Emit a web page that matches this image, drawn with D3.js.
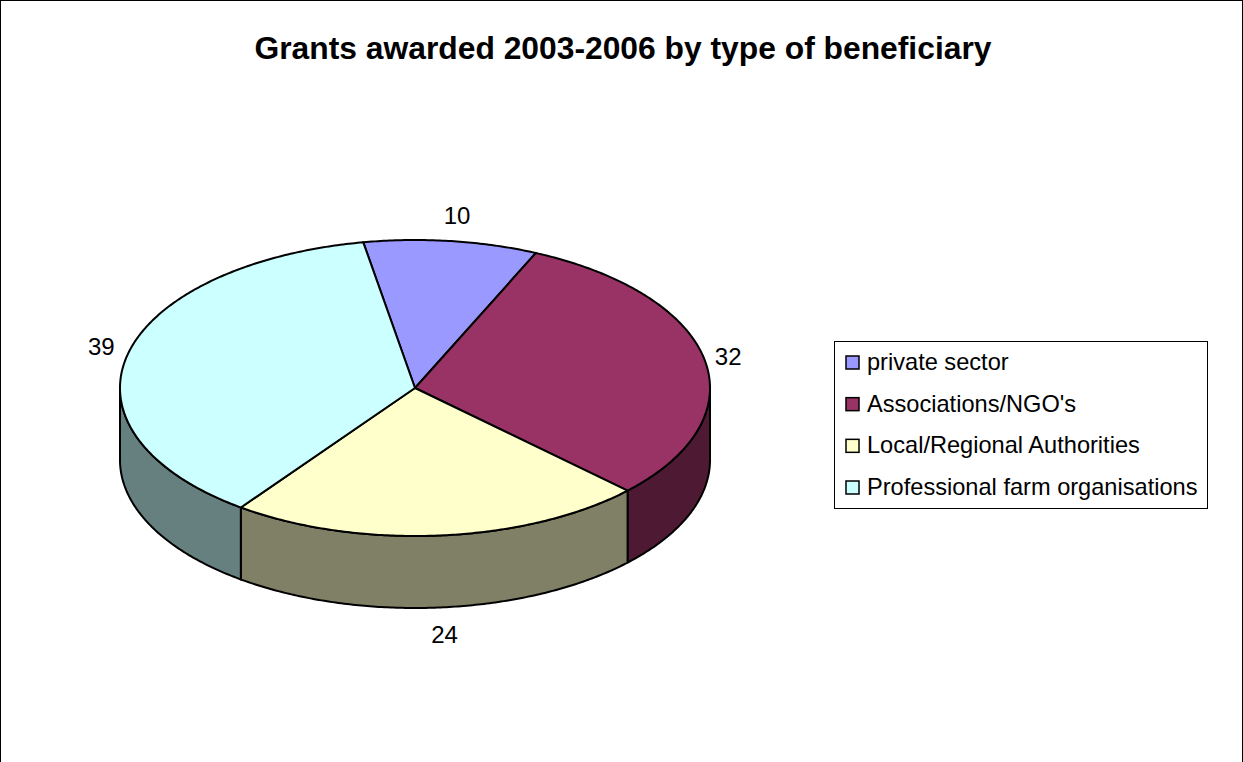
<!DOCTYPE html>
<html>
<head>
<meta charset="utf-8">
<script src="https://d3js.org/d3.v7.min.js"></script>
<style>
html,body{margin:0;padding:0;background:#fff;overflow:hidden}
svg{display:block}
text{font-family:"Liberation Sans",Arial,sans-serif;fill:#000}
</style>
</head>
<body>
<script>
const titleText = "Grants awarded 2003-2006 by type of beneficiary";
const categories = ["private sector","Associations/NGO's","Local/Regional Authorities","Professional farm organisations"];
const values = [10,32,24,39];
const topColors = ["#9999FF","#993366","#FFFFCC","#CCFFFF"];
const sideColors = ["#4D4D80","#4D1933","#808066","#668080"];

const W=1243,H=762, cx=415, cy=388, rx=295, ry=148, depth=72;
const svg=d3.select("body").append("svg").attr("width",W).attr("height",H);
svg.append("rect").attr("x",0.5).attr("y",0.5).attr("width",W-1).attr("height",H+10)
  .attr("fill","#fff").attr("stroke","#000");
svg.append("text").attr("x",623).attr("y",59).attr("text-anchor","middle")
  .attr("font-size",31.8).attr("font-weight","bold").text(titleText);

const start=-10.1*Math.PI/180;
const pie=d3.pie().sort(null).startAngle(start).endAngle(start+2*Math.PI);
const arcs=pie(values);
const X=d3.scaleLinear().domain([-1,1]).range([cx-rx,cx+rx]);
const Y=d3.scaleLinear().domain([-1,1]).range([cy-ry,cy+ry]);
const px=a=>X(Math.sin(a)), py=a=>Y(-Math.cos(a));
const line=d3.line();
const samples=(a,b)=>{const n=Math.max(2,Math.ceil((b-a)/0.01));return d3.range(n+1).map(i=>a+(b-a)*i/n);};

// sides (only the front half is visible)
const front=[Math.PI/2,3*Math.PI/2];
arcs.forEach((d,i)=>{
  const a=Math.max(d.startAngle,front[0]), b=Math.min(d.endAngle,front[1]);
  if(b<=a) return;
  const s=samples(a,b);
  const pts=s.map(t=>[px(t),py(t)]).concat(s.slice().reverse().map(t=>[px(t),py(t)+depth]));
  svg.append("path").attr("d",line(pts)+"Z").attr("fill",sideColors[i])
    .attr("stroke","#000").attr("stroke-width",2).attr("stroke-linejoin","round");
});
// tops
arcs.forEach((d,i)=>{
  const pts=[[cx,cy]].concat(samples(d.startAngle,d.endAngle).map(t=>[px(t),py(t)]));
  svg.append("path").attr("d",line(pts)+"Z").attr("fill",topColors[i])
    .attr("stroke","#000").attr("stroke-width",2).attr("stroke-linejoin","round");
});
// data labels
const labelNudgeX=[3,0,2,-3];
const labelNudgeY=[0,2,0,-2];
arcs.forEach((d,i)=>{
  const m=(d.startAngle+d.endAngle)/2, c=Math.cos(m);
  svg.append("text").attr("text-anchor","middle").attr("font-size",24)
    .attr("x",cx+(rx+24)*Math.sin(m)+labelNudgeX[i])
    .attr("y",cy-(ry+25)*c+(c<0?depth+3:0)+8+labelNudgeY[i])
    .text(values[i]);
});
// legend
const lx=834, ly=341, lw=373, lh=167;
svg.append("rect").attr("x",lx+.5).attr("y",ly+.5).attr("width",lw).attr("height",lh)
  .attr("fill","#fff").attr("stroke","#000");
const rowY=d3.scalePoint().domain(categories).range([ly+21,ly+146]);
categories.forEach((c,i)=>{
  const y=rowY(c);
  svg.append("rect").attr("x",lx+12).attr("y",y-6).attr("width",13).attr("height",13)
    .attr("fill",topColors[i]).attr("stroke","#000").attr("stroke-width",1.5);
  svg.append("text").attr("x",lx+33).attr("y",y+8).attr("font-size",23.6).text(c);
});
</script>
</body>
</html>
